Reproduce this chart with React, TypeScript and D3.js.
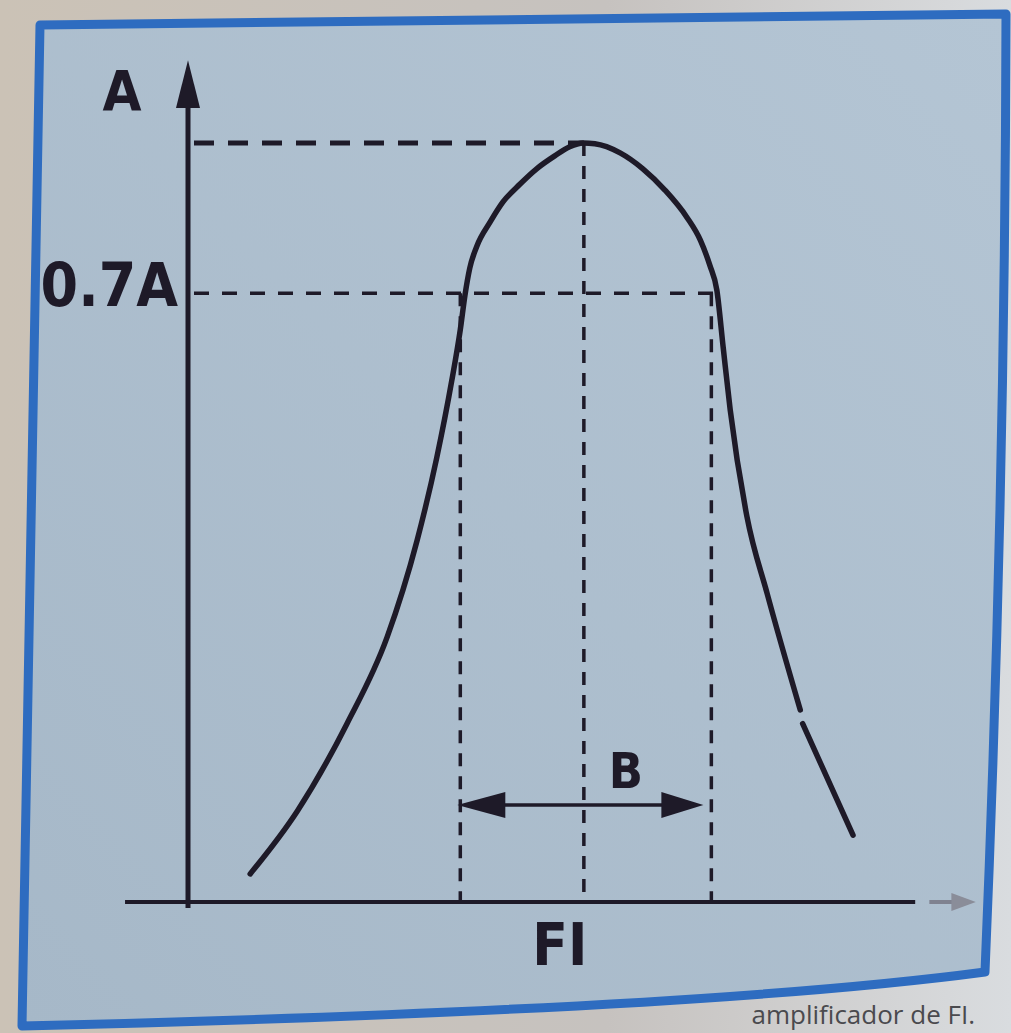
// IF response curve (photo of a textbook figure), redrawn with d3 scales
import React from 'react';
import * as d3 from 'd3';

// curve: frequency (0..100 arbitrary units) and relative amplitude
// null marks the small break in the printed line on the right flank
const curveFreq = [7.9, 13.9, 20.2, 25.3, 29.1, 31.6, 33.5, 34.6, 35.2, 35.8, 36.7, 38.4, 40.0, 42.2, 44.3, 46.6, 48.5, 50.2, 51.7, 54.9, 57.8, 60.6, 63.4, 65.1, 66.3, 67.2, 68.0, 68.9, 71.0, 73.6, 77.8, 77.9, 78.1, 84.5];
const curveAmp = [0.037, 0.12, 0.235, 0.349, 0.476, 0.585, 0.686, 0.754, 0.8, 0.835, 0.864, 0.896, 0.922, 0.946, 0.966, 0.983, 0.995, 1.0, 0.999, 0.987, 0.966, 0.938, 0.902, 0.872, 0.839, 0.806, 0.731, 0.648, 0.509, 0.406, 0.253, null, 0.235, 0.088];

// reference levels and frequencies
const levelValues = [1.0, 0.802];
const levelLabels = ['', '0.7A'];
const markFreqs = [34.6, 50.3, 66.5]; // f1, FI, f2
const markTops = [0.802, 1.0, 0.802];
const axisLabelY = 'A';
const axisLabelX = 'FI';
const bandLabel = 'B';
const caption = 'amplificador de FI.';

const W = 1011;
const H = 1033;
const ink = '#1e1a28';
const font = "'DejaVu Sans Condensed', 'DejaVu Sans', sans-serif";

export default function App() {
  const x = d3.scaleLinear().domain([0, 100]).range([188, 975]);
  const y = d3.scaleLinear().domain([0, 1]).range([902, 143]);

  const pts = curveFreq.map((f, i) => [f, curveAmp[i]] as [number, number | null]);
  const line = d3
    .line<[number, number | null]>()
    .defined((d) => d[1] != null)
    .x((d) => x(d[0]))
    .y((d) => y(d[1] as number))
    .curve(d3.curveMonotoneX);

  const arrowY = 805;
  const bL = x(markFreqs[0]) - 3;
  const bR = x(markFreqs[2]) - 8;

  // frame follows the curved page of the photo
  const frame = 'M40,25 L1006,14 Q1005,500 985,972 Q700,1010 22,1026 Q30,500 40,25 Z';

  return (
    <svg width={W} height={H} style={{ position: 'fixed', left: 0, top: 0, display: 'block' }}>
      <defs>
        <linearGradient id="paper" x1="0" y1="1" x2="1" y2="0">
          <stop offset="0" stopColor="#a6b8c8" />
          <stop offset="1" stopColor="#b4c5d4" />
        </linearGradient>
        <linearGradient id="outside" x1="0" y1="0" x2="1" y2="0">
          <stop offset="0" stopColor="#cbc2b6" />
          <stop offset="0.6" stopColor="#c6c2bf" />
          <stop offset="1" stopColor="#d9dcdf" />
        </linearGradient>
      </defs>
      <rect width={W} height={H} fill="url(#outside)" />
      <text x={975} y={1024} textAnchor="end" fontFamily="'Open Sans', sans-serif" fontSize={26} fill="#4a4a4e">
        {caption}
      </text>
      <path d={frame} fill="url(#paper)" />

      {/* dashed reference levels */}
      {levelValues.map((v, i) => (
        <line
          key={'h' + i}
          x1={x(0) + 6}
          x2={x(i === 0 ? markFreqs[1] : markFreqs[2] + 0.5)}
          y1={y(v)}
          y2={y(v)}
          stroke={ink}
          strokeWidth={i === 0 ? 5 : 3.5}
          strokeDasharray={i === 0 ? '20 14' : '15 13'}
        />
      ))}
      {markFreqs.map((f, i) => (
        <line
          key={'v' + i}
          x1={x(f)}
          x2={x(f)}
          y1={y(markTops[i])}
          y2={y(0)}
          stroke={ink}
          strokeWidth={3.5}
          strokeDasharray="13 10"
        />
      ))}

      {/* axes */}
      <line x1={x(0)} x2={x(0)} y1={y(-0.008)} y2={y(1.05)} stroke={ink} strokeWidth={5} />
      <path
        d={`M${x(0)},${y(1.109)} L${x(0) + 12},${y(1.046)} L${x(0) - 12},${y(1.046)} Z`}
        fill={ink}
      />
      <line x1={x(-8)} x2={x(92.4)} y1={y(0)} y2={y(0)} stroke={ink} strokeWidth={4} />
      <line x1={x(94.2)} x2={x(97.5)} y1={y(0)} y2={y(0)} stroke="#7f8290" strokeWidth={4} />
      <path
        d={`M${x(100.1)},${y(0)} L${x(97)},${y(0) - 9} L${x(97)},${y(0) + 9} Z`}
        fill="#8a8d99"
      />

      {/* response curve */}
      <path d={line(pts) ?? ''} fill="none" stroke={ink} strokeWidth={5.5} strokeLinecap="round" />

      {/* bandwidth arrow */}
      <line x1={bL + 20} x2={bR - 20} y1={arrowY} y2={arrowY} stroke={ink} strokeWidth={3.5} />
      <path d={`M${bL},${arrowY} L${bL + 48},${arrowY - 13} L${bL + 48},${arrowY + 13} Z`} fill={ink} />
      <path d={`M${bR},${arrowY} L${bR - 42},${arrowY - 13} L${bR - 42},${arrowY + 13} Z`} fill={ink} />

      {/* labels */}
      <g fontFamily={font} fontWeight="bold" fill={ink} style={{ fontStretch: 'condensed' }}>
        <text x={122} y={110} textAnchor="middle" fontSize={56}>
          {axisLabelY}
        </text>
        {levelLabels.map((t, i) =>
          t ? (
            <text key={'l' + i} x={x(0) - 10} y={y(levelValues[i]) + 13} textAnchor="end" fontSize={60}>
              {t}
            </text>
          ) : null
        )}
        <text x={626} y={788} textAnchor="middle" fontSize={50}>
          {bandLabel}
        </text>
        <text x={x(markFreqs[1]) - 24} y={965} textAnchor="middle" fontSize={58}>
          {axisLabelX}
        </text>
      </g>

      {/* blue frame drawn last so it clips the "0" of 0.7A as in the photo */}
      <path d={frame} fill="none" stroke="#2e6cc0" strokeWidth={9} strokeLinejoin="round" />
    </svg>
  );
}
